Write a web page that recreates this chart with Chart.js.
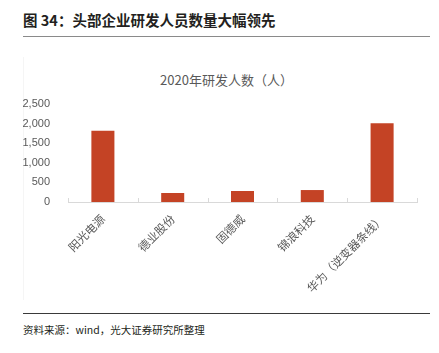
<!DOCTYPE html>
<html><head><meta charset="utf-8">
<script src="https://cdn.jsdelivr.net/npm/chart.js@4.4.0/dist/chart.umd.min.js"></script>
<style>
html,body{margin:0;padding:0;background:#fff;width:439px;height:353px;overflow:hidden;font-family:"Noto Sans CJK SC","Liberation Sans",sans-serif;}
#hdr{position:absolute;left:23px;top:10px;font-size:14.5px;font-weight:bold;color:#231f20;white-space:nowrap;line-height:20px;}
#hl{position:absolute;left:23px;top:36px;width:407px;height:1px;background:#8a8a8a;}
#box{position:absolute;left:23px;top:57px;width:407px;height:243px;border-left:1px solid #f5f5f5;}
#ctitle{position:absolute;left:23px;width:407px;top:71px;text-align:center;font-size:13px;color:#595959;line-height:18px;}
#wrap{position:absolute;left:23px;top:50px;width:407px;height:260px;}
#fl{position:absolute;left:23px;top:313px;width:407px;height:1px;background:#3a3a3a;}
#src{position:absolute;left:23px;top:322px;font-size:10.5px;color:#231f20;white-space:nowrap;line-height:16px;}
</style></head>
<body>
<div id="hdr">图 34：头部企业研发人员数量大幅领先</div>
<div id="hl"></div>
<div id="box"></div>
<div id="ctitle">2020年研发人数（人）</div>
<div id="wrap"><canvas id="c" width="407" height="260"></canvas></div>
<div id="fl"></div>
<div id="src">资料来源：wind，光大证券研究所整理</div>
<script>
const categories = ["阳光电源", "德业股份", "固德威", "锦浪科技", "华为（逆变器条线）"];
const rdStaff = [1820, 230, 280, 305, 2010];
const yTicks = [0, 500, 1000, 1500, 2000, 2500];

const tickMarks = {
  id: 'tickMarks',
  afterDraw(chart) {
    const x = chart.scales.x, ctx = chart.ctx, y0 = chart.chartArea.bottom;
    ctx.save();
    ctx.strokeStyle = '#d9d9d9';
    ctx.lineWidth = 1;
    const half = (x.getPixelForValue(1) - x.getPixelForValue(0)) / 2;
    for (let i = 0; i <= categories.length; i++) {
      const px = Math.round(x.getPixelForValue(i) - half) + 0.5;
      ctx.beginPath(); ctx.moveTo(px, y0 - 4); ctx.lineTo(px, y0); ctx.stroke();
    }
    ctx.restore();
  }
};

new Chart(document.getElementById('c'), {
  type: 'bar',
  data: { labels: categories, datasets: [{ data: rdStaff, backgroundColor: '#c44325', borderWidth: 0, barPercentage: 0.66, categoryPercentage: 0.5 }] },
  options: {
    responsive: false, animation: false,
    layout: { padding: { top: 54, right: 13, left: 0, bottom: 0 } },
    plugins: { legend: { display: false }, title: { display: false }, tooltip: { enabled: false } },
    scales: {
      x: {
        grid: { display: false, drawOnChartArea: false },
        border: { display: true, color: '#d9d9d9' },
        ticks: { color: '#595959', font: { size: 11.5, family: '"Noto Sans CJK SC", sans-serif' }, minRotation: 45, maxRotation: 45, padding: 2 },
        afterFit(s) { s.height = 108; }
      },
      y: {
        min: 0, max: 2500,
        grid: { display: false },
        border: { display: false },
        afterBuildTicks(s) { s.ticks = yTicks.map(v => ({ value: v })); },
        ticks: { color: '#595959', font: { size: 11, family: '"Liberation Sans", sans-serif' }, padding: 10,
          callback: v => v.toLocaleString('en-US') },
        afterFit(s) { s.width = 45; }
      }
    }
  },
  plugins: [tickMarks]
});
</script>
</body></html>
